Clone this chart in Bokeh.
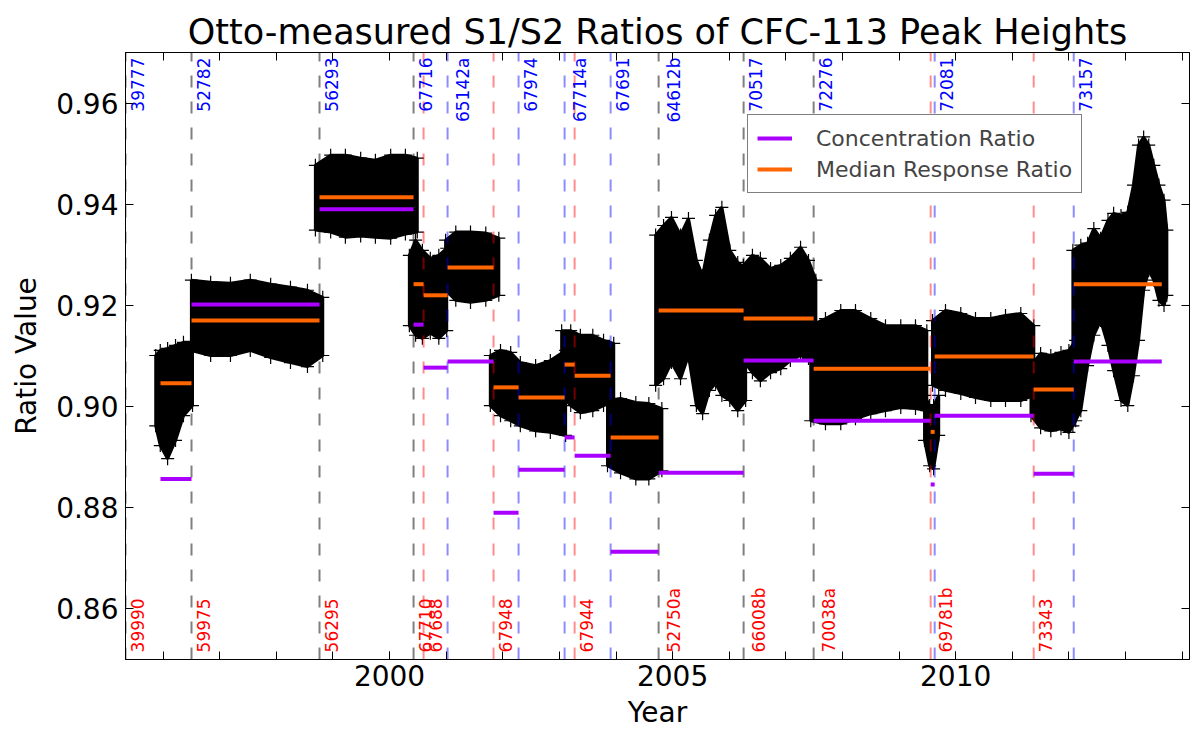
import numpy as np
from bokeh.plotting import figure
from bokeh.models import (Range1d, FixedTicker, LinearAxis, Legend, LegendItem,
                          NumeralTickFormatter, ColumnDataSource)
from bokeh.embed import file_html
from bokeh.resources import INLINE
from bokeh.core.properties import value

FONT = "DejaVu Sans"

# ---- tank-change markers (decimal year) ----
change_years = [1995.336, 1996.502, 1998.763, 2000.424, 2000.601, 2001.025, 2001.837,
                2002.279, 2003.092, 2003.269, 2003.905, 2004.753, 2006.254, 2007.491,
                2009.558, 2009.629, 2011.378, 2012.085]
change_kind = ["both", "both", "both", "both", "s1", "s2", "s1", "s2", "s2", "s1", "s2",
               "both", "both", "both", "s1", "s2", "s1", "s2"]
s2_labels = ["39777", "52782", "56293", "67716", "", "65142a", "", "67974", "67714a", "",
             "67691", "64612b", "70517", "72276", "", "72081", "", "73157"]
s1_labels = ["39990", "59975", "56295", "67710", "67688", "", "67948", "", "", "67944", "",
             "52750a", "66008b", "70038a", "69781b", "", "73343", ""]

# ---- per-period ratios ----
seg_start = [1995.954, 1996.502, 1998.763, 2000.424, 2000.601, 2001.025, 2001.837,
             2002.279, 2003.092, 2003.269, 2003.905, 2004.753, 2006.254, 2007.491,
             2009.558, 2009.629, 2011.378, 2012.085]
seg_end = [1996.502, 1998.763, 2000.424, 2000.601, 2001.025, 2001.837, 2002.279,
           2003.092, 2003.269, 2003.905, 2004.753, 2006.254, 2007.491, 2009.558,
           2009.629, 2011.378, 2012.085, 2013.640]
conc_ratio = [0.8857, 0.9202, 0.9390, 0.9162, 0.9077, 0.9089, 0.8790, 0.8875, 0.8939,
              0.8903, 0.8713, 0.8869, 0.9091, 0.8972, 0.8846, 0.8982, 0.8867, 0.9089]
median_ratio = [0.9046, 0.9170, 0.9414, 0.9242, 0.9220, 0.9275, 0.9038, 0.9018, 0.9083,
                0.9061, 0.8939, 0.9190, 0.9174, 0.9075, 0.8950, 0.9099, 0.9034, 0.9242]

# ---- envelope of the measured S1/S2 ratios ----
env_year = [
    [1995.87, 1995.95, 1996.08, 1996.22, 1996.36, 1996.52],
    [1996.50, 1996.84, 1997.19, 1997.54, 1997.90, 1998.25, 1998.55, 1998.82],
    [1998.69, 1998.96, 1999.22, 1999.49, 1999.75, 2000.02, 2000.28, 2000.49],
    [2000.35, 2000.46, 2000.58, 2000.72, 2000.87, 2001.01],
    [2000.99, 2001.17, 2001.43, 2001.70, 2001.93],
    [2001.78, 2001.96, 2002.14, 2002.31, 2002.58, 2002.84, 2003.11],
    [2003.04, 2003.20, 2003.37, 2003.59, 2003.78, 2003.96],
    [2003.85, 2004.08, 2004.35, 2004.58, 2004.81],
    [2004.70, 2004.84, 2004.98, 2005.14, 2005.28, 2005.42, 2005.53, 2005.65, 2005.76,
     2005.87, 2006.01, 2006.15, 2006.29],
    [2006.25, 2006.41, 2006.55, 2006.73, 2006.91, 2007.08, 2007.26, 2007.40, 2007.53],
    [2007.44, 2007.70, 2007.97, 2008.23, 2008.50, 2008.76, 2009.03, 2009.29, 2009.49],
    [2009.45, 2009.54, 2009.61, 2009.70],
    [2009.59, 2009.82, 2010.09, 2010.35, 2010.62, 2010.88, 2011.15, 2011.38],
    [2011.33, 2011.50, 2011.68, 2011.86, 2012.00, 2012.12],
    [2012.07, 2012.21, 2012.33, 2012.44, 2012.56, 2012.69, 2012.79, 2012.92, 2013.04,
     2013.14, 2013.23, 2013.32, 2013.41, 2013.50, 2013.59, 2013.68, 2013.73],
]
env_high = [
    [0.9101, 0.9111, 0.9115, 0.9121, 0.9127, 0.9127],
    [0.9250, 0.9246, 0.9244, 0.9250, 0.9242, 0.9236, 0.9230, 0.9216],
    [0.9477, 0.9497, 0.9497, 0.9491, 0.9487, 0.9497, 0.9497, 0.9491],
    [0.9299, 0.9329, 0.9309, 0.9293, 0.9299, 0.9313],
    [0.9329, 0.9345, 0.9345, 0.9343, 0.9333],
    [0.9101, 0.9111, 0.9107, 0.9087, 0.9081, 0.9091, 0.9111],
    [0.9150, 0.9150, 0.9141, 0.9141, 0.9131, 0.9125],
    [0.9012, 0.9016, 0.9008, 0.9006, 0.8996],
    [0.9339, 0.9358, 0.9374, 0.9339, 0.9372, 0.9289, 0.9259, 0.9329, 0.9378, 0.9394,
     0.9309, 0.9285, 0.9273],
    [0.9279, 0.9299, 0.9293, 0.9273, 0.9279, 0.9293, 0.9315, 0.9289, 0.9250],
    [0.9160, 0.9174, 0.9190, 0.9190, 0.9174, 0.9160, 0.9160, 0.9160, 0.9150],
    [0.9022, 0.9002, 0.9002, 0.9022],
    [0.9170, 0.9190, 0.9184, 0.9174, 0.9174, 0.9180, 0.9184, 0.9160],
    [0.9081, 0.9105, 0.9101, 0.9107, 0.9111, 0.9131],
    [0.9309, 0.9319, 0.9323, 0.9352, 0.9333, 0.9368, 0.9382, 0.9378, 0.9384, 0.9438,
     0.9517, 0.9533, 0.9517, 0.9477, 0.9438, 0.9408, 0.9349],
]
env_low = [
    [0.8962, 0.8923, 0.8897, 0.8933, 0.8982, 0.9002],
    [0.9111, 0.9101, 0.9101, 0.9111, 0.9097, 0.9087, 0.9079, 0.9101],
    [0.9349, 0.9345, 0.9335, 0.9337, 0.9335, 0.9333, 0.9341, 0.9345],
    [0.9160, 0.9141, 0.9135, 0.9145, 0.9135, 0.9150],
    [0.9230, 0.9210, 0.9206, 0.9210, 0.9220],
    [0.9002, 0.8982, 0.8972, 0.8962, 0.8952, 0.8949, 0.8943],
    [0.9022, 0.9002, 0.8988, 0.8992, 0.9002, 0.9012],
    [0.8883, 0.8869, 0.8857, 0.8857, 0.8873],
    [0.9042, 0.9055, 0.9087, 0.9055, 0.9101, 0.9002, 0.8986, 0.9032, 0.9046, 0.9022,
     0.9012, 0.8992, 0.9012],
    [0.9091, 0.9067, 0.9051, 0.9067, 0.9075, 0.9091, 0.9101, 0.9095, 0.9087],
    [0.8972, 0.8966, 0.8966, 0.8976, 0.8986, 0.8992, 0.8998, 0.8996, 0.8992],
    [0.8933, 0.8883, 0.8877, 0.8943],
    [0.9042, 0.9032, 0.9026, 0.9018, 0.9012, 0.9012, 0.9012, 0.9022],
    [0.8982, 0.8958, 0.8952, 0.8956, 0.8949, 0.8972],
    [0.8962, 0.8992, 0.9081, 0.9141, 0.9170, 0.9121, 0.9071, 0.9012, 0.9002, 0.9061,
     0.9131, 0.9230, 0.9269, 0.9250, 0.9210, 0.9200, 0.9220],
]

x_ticks = list(range(1996, 2015))
x_labelled = [2000, 2005, 2010]
y_ticks = [0.86, 0.88, 0.90, 0.92, 0.94, 0.96]
X_MIN, X_MAX = change_years[0], 2014.13
Y_MIN, Y_MAX = 0.85, 0.97

p = figure(width=1191, height=731, output_backend="svg", toolbar_location=None,
           x_range=Range1d(X_MIN, X_MAX), y_range=Range1d(Y_MIN, Y_MAX),
           min_border_left=125, min_border_right=2, min_border_top=52, min_border_bottom=0,
           x_axis_label="Year", y_axis_label="Ratio Value")
p.title.text = "Otto-measured S1/S2 Ratios of CFC-113 Peak Heights"
p.title.text_font = FONT
p.title.text_font_size = "35px"
p.title.text_font_style = "normal"
p.title.text_color = "black"
p.title.align = "center"
p.title.standoff = 1
p.xgrid.visible = False
p.ygrid.visible = False
p.outline_line_color = "black"
p.background_fill_color = "white"
p.border_fill_color = "white"

# ---- scatter cloud ----
xs = [list(e) + list(e)[::-1] for e in env_year]
ys = [list(h) + list(l)[::-1] for h, l in zip(env_high, env_low)]
p.patches(xs=xs, ys=ys, fill_color="black", line_color="black", line_width=3)
all_x = [v for e in env_year for v in e]
p.scatter(all_x, [v for h in env_high for v in h], marker="cross", size=13,
          line_color="black", line_width=1.2)
p.scatter(all_x, [v for l in env_low for v in l], marker="cross", size=13,
          line_color="black", line_width=1.2)

# ---- tank change lines ----
kind_color = {"both": "black", "s1": "red", "s2": "blue"}
kind_alpha = {"both": 0.5, "s1": 0.45, "s2": 0.45}
vsrc = ColumnDataSource(dict(
    x=change_years,
    y0=[Y_MIN] * len(change_years),
    y1=[Y_MAX] * len(change_years),
    c=[kind_color[k] for k in change_kind],
    a=[kind_alpha[k] for k in change_kind]))
p.segment(x0="x", y0="y0", x1="x", y1="y1", source=vsrc, line_color="c", line_alpha="a",
          line_width=2, line_dash="12 14")

# ---- ratio segments ----
r_conc = p.segment(x0=seg_start, y0=conc_ratio, x1=seg_end, y1=conc_ratio,
                   line_color="#aa00ff", line_width=4)
r_med = p.segment(x0=seg_start, y0=median_ratio, x1=seg_end, y1=median_ratio,
                  line_color="#ff6600", line_width=4)

# ---- tank labels ----
PAD = 0.09
top_idx = [i for i, t in enumerate(s2_labels) if t]
bot_idx = [i for i, t in enumerate(s1_labels) if t]
p.text(x=[change_years[i] + PAD for i in top_idx], y=[Y_MAX - 0.001] * len(top_idx),
       text=[s2_labels[i] for i in top_idx], angle=np.pi / 2, text_align="right",
       text_baseline="top", text_color="#0000ff", text_font=value(FONT),
       text_font_size="17px")
p.text(x=[change_years[i] + PAD for i in bot_idx], y=[Y_MIN + 0.0014] * len(bot_idx),
       text=[s1_labels[i] for i in bot_idx], angle=np.pi / 2, text_align="left",
       text_baseline="top", text_color="#ff0000", text_font=value(FONT),
       text_font_size="17px")

# ---- axes ----
def style_axis(ax):
    ax.axis_line_color = "black"
    ax.axis_line_width = 1
    ax.major_tick_in = 8
    ax.major_tick_out = 0
    ax.minor_tick_in = 8
    ax.minor_tick_out = 0
    ax.major_tick_line_color = "black"
    ax.minor_tick_line_color = "black"
    ax.major_label_text_font = FONT
    ax.major_label_text_font_size = "28px"
    ax.major_label_text_color = "black"
    ax.axis_label_text_font = FONT
    ax.axis_label_text_font_size = "28px"
    ax.axis_label_text_font_style = "normal"
    ax.axis_label_text_color = "black"

xa = p.xaxis[0]
xa.ticker = FixedTicker(ticks=x_labelled, minor_ticks=x_ticks)
style_axis(xa)
xa.major_label_standoff = 5
xa.axis_label_standoff = 7

ya = p.yaxis[0]
ya.ticker = FixedTicker(ticks=y_ticks, minor_ticks=[])
ya.formatter = NumeralTickFormatter(format="0.00")
style_axis(ya)
ya.major_label_standoff = 7
ya.axis_label_standoff = 10

top_ax = LinearAxis(ticker=FixedTicker(ticks=[], minor_ticks=x_ticks))
style_axis(top_ax)
p.add_layout(top_ax, "above")
right_ax = LinearAxis(ticker=FixedTicker(ticks=[], minor_ticks=y_ticks))
style_axis(right_ax)
p.add_layout(right_ax, "right")

# ---- legend ----
legend = Legend(items=[LegendItem(label="Concentration Ratio", renderers=[r_conc]),
                       LegendItem(label="Median Response Ratio", renderers=[r_med])],
                location=(622, 466), label_text_font=FONT, label_text_font_size="22px",
                glyph_width=35, glyph_height=28, label_height=28, label_standoff=24,
                padding=9, spacing=3, border_line_color="black", border_line_width=1,
                background_fill_color="white", background_fill_alpha=1.0, margin=0)
p.add_layout(legend)

open("out.html", "w").write(file_html(p, INLINE))
